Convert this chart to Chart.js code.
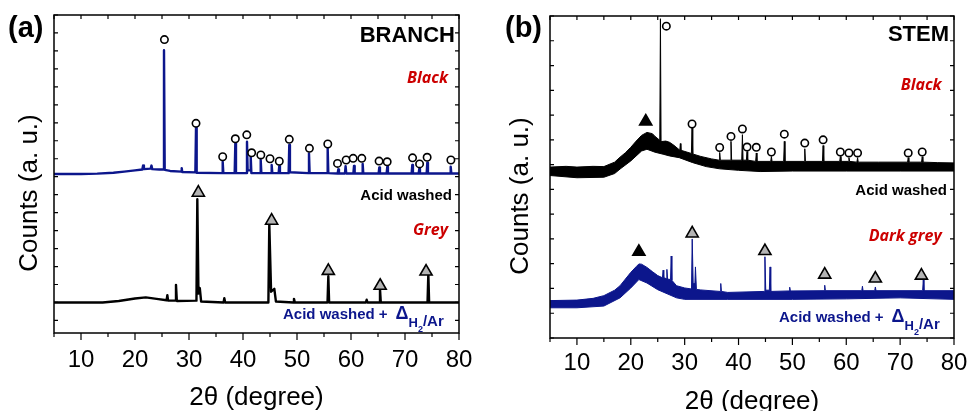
<!DOCTYPE html>
<html lang="en">
<head>
<meta charset="UTF-8">
<title>XRD - branch / stem</title>
<style>
  body { margin: 0; background: #fff; }
  .wrap { position: relative; width: 968px; height: 411px; overflow: hidden; }
  canvas { position: absolute; top: 0; }
  #chartA { left: 0; }
  #chartB { left: 484px; }
</style>
<script src="https://cdn.jsdelivr.net/npm/chart.js"></script>
</head>
<body>
<div class="wrap">
  <canvas id="chartA" width="484" height="411"></canvas>
  <canvas id="chartB" width="484" height="411"></canvas>
</div>
<script>
const NAVY = '#0c168c';
const RED = '#cc0000';
const SANS = '"Liberation Sans", Arial, sans-serif';

// x tick labels (ticks every 5, labels every 10)
const xLabelled = [10, 20, 30, 40, 50, 60, 70, 80];

// ---- (a) BRANCH ----
// "Black" pattern (navy trace)
const branchBlack = [[5,8.15],[10,8.15],[13,8.17],[16,8.22],[18,8.28],[20,8.35],[21.35,8.4],[21.5,8.62],[21.65,8.42],[22.9,8.45],[23.05,8.62],[23.2,8.42],[24.5,8.4],[25.25,8.4],[25.37,15.04],[25.5,8.38],[26.5,8.32],[28.55,8.28],[28.65,8.47],[28.75,8.26],[31.18,8.24],[31.3,10.72],[31.42,8.22],[36.12,8.2],[36.24,8.83],[36.36,8.2],[38.46,8.2],[38.58,9.86],[38.7,8.2],[40.62,8.2],[40.74,9.95],[40.86,8.35],[41.31,8.35],[41.43,9.11],[41.55,8.2],[43.16,8.2],[43.28,8.93],[43.4,8.2],[45.19,8.2],[45.31,8.65],[45.43,8.2],[46.6,8.2],[46.72,8.59],[46.84,8.2],[48.45,8.2],[48.57,9.76],[48.69,8.25],[52.1,8.2],[52.22,9.3],[52.34,8.2],[55.56,8.2],[55.68,9.58],[55.8,8.2],[57.53,8.18],[57.65,8.41],[57.77,8.18],[58.88,8.18],[59.0,8.59],[59.12,8.18],[60.44,8.18],[60.56,8.6],[60.68,8.18],[62.04,8.18],[62.16,8.71],[62.28,8.18],[65.12,8.18],[65.24,8.52],[65.36,8.18],[66.6,8.18],[66.72,8.55],[66.84,8.18],[71.23,8.18],[71.35,8.65],[71.47,8.18],[72.53,8.18],[72.65,8.45],[72.77,8.18],[74.01,8.18],[74.13,8.78],[74.25,8.18],[78.34,8.18],[78.46,8.56],[78.58,8.18],[80,8.18]];
// "Grey" pattern (black trace)
const branchGrey = [[5,1.0],[14,1.0],[17,1.08],[20,1.22],[22,1.28],[24,1.2],[25.85,1.12],[25.99,1.41],[26.13,1.1],[27.45,1.1],[27.59,1.98],[27.75,1.08],[31.38,1.1],[31.54,6.75],[31.75,1.5],[32.0,1.8],[32.25,1.05],[36.4,1.0],[36.54,1.24],[36.7,1.0],[44.7,1.0],[44.87,5.36],[45.2,1.6],[45.8,1.76],[46.1,1.05],[49.3,1.0],[49.44,1.2],[49.6,1.0],[55.65,1.0],[55.8,2.46],[55.95,1.0],[62.75,1.0],[62.9,1.15],[63.05,1.0],[65.22,1.0],[65.37,1.74],[65.52,1.0],[74.17,1.0],[74.32,2.58],[74.47,1.0],[80,1.0]];
const branchCircles = [[25.45,15.63],[31.3,10.97],[36.24,9.11],[38.58,10.11],[40.7,10.33],[41.6,9.33],[43.3,9.21],[45.0,9.0],[46.72,8.86],[48.57,10.08],[52.3,9.58],[55.7,9.82],[57.5,8.74],[59.1,8.93],[60.4,9.02],[62.0,9.02],[65.2,8.87],[66.7,8.83],[71.4,9.05],[72.7,8.71],[74.1,9.08],[78.5,8.93]];
const branchGreyTri = [[31.73,7.11],[45.3,5.55],[55.8,2.76],[65.4,1.93],[73.9,2.72]];

// ---- (b) STEM ----
// "Black" pattern, noisy band: upper and lower envelope
const stemBlackUpper = [[5,6.9],[8,6.93],[10,6.9],[13,6.93],[15,6.92],[17,7.1],[18,7.3],[19,7.48],[20,7.7],[21,7.95],[22,8.18],[23,8.3],[24,8.25],[24.5,8.14],[25.38,7.98],[25.5,12.89],[25.62,7.93],[26.5,7.95],[27.2,7.9],[28,7.78],[29.1,7.58],[29.2,7.85],[29.3,7.58],[31.25,7.45],[31.37,8.48],[31.5,7.43],[33,7.33],[35,7.23],[36.38,7.18],[36.5,7.49],[36.62,7.18],[38.48,7.18],[38.6,7.94],[38.72,7.18],[40.6,7.18],[40.72,8.21],[40.84,7.18],[41.46,7.18],[41.58,7.53],[41.7,7.18],[43.18,7.13],[43.3,7.47],[43.42,7.13],[45.98,7.13],[46.1,7.33],[46.22,7.13],[48.38,7.13],[48.5,7.94],[48.62,7.13],[52.18,7.13],[52.3,7.64],[52.42,7.13],[55.58,7.13],[55.7,7.77],[55.82,7.13],[58.78,7.13],[58.9,7.33],[59.02,7.13],[60.38,7.13],[60.5,7.28],[60.62,7.13],[61.98,7.1],[62.1,7.28],[62.22,7.1],[66,7.1],[71.38,7.1],[71.5,7.28],[71.62,7.1],[73.98,7.1],[74.1,7.32],[74.22,7.1],[77,7.08],[80,7.07]];
const stemBlackLower = [[5,6.56],[10,6.47],[15,6.49],[17,6.64],[18,6.82],[20,7.15],[22,7.55],[23,7.62],[24.5,7.5],[26,7.42],[27.2,7.35],[29,7.28],[31.5,7.08],[34,6.92],[36.5,6.83],[40,6.77],[44,6.72],[50,6.74],[60,6.74],[70,6.74],[80,6.74]];
// "Dark grey" pattern (navy band)
const stemGreyUpper = [[5,1.51],[10,1.53],[13,1.6],[15,1.71],[17,1.93],[18,2.11],[19,2.38],[20,2.65],[21,2.88],[21.5,2.99],[22,2.98],[23,2.85],[24,2.68],[25,2.52],[25.88,2.43],[26.0,2.74],[26.12,2.43],[26.58,2.4],[26.7,2.77],[26.82,2.38],[27.38,2.36],[27.5,3.31],[27.62,2.33],[28.5,2.11],[30,2.02],[31.27,1.98],[31.4,4.0],[31.58,2.2],[31.9,2.2],[32.0,2.87],[32.18,1.96],[33,1.94],[36.58,1.88],[36.7,2.2],[36.82,1.88],[38,1.84],[44.78,1.88],[44.9,3.28],[45.05,1.93],[45.72,1.93],[45.85,2.87],[45.98,1.88],[49.38,1.9],[49.5,2.05],[49.62,1.9],[55.88,1.91],[56.0,2.13],[56.12,1.91],[62.88,1.91],[63.0,2.09],[63.12,1.91],[65.28,1.91],[65.4,2.06],[65.52,1.91],[74.18,1.91],[74.3,2.34],[74.42,1.91],[80,1.91]];
const stemGreyLower = [[5,1.22],[10,1.22],[15,1.29],[18,1.62],[20,2.02],[21.5,2.36],[23,2.22],[25,1.95],[28.5,1.62],[30,1.56],[38,1.56],[50,1.56],[60,1.58],[70,1.62],[80,1.56]];
const stemCircles = [[26.6,12.59],[31.37,8.64],[36.5,7.69],[38.6,8.14],[40.72,8.44],[41.58,7.71],[43.3,7.7],[46.1,7.51],[48.5,8.23],[52.3,7.87],[55.7,8.0],[58.9,7.51],[60.5,7.47],[62.1,7.47],[71.5,7.47],[74.1,7.51]];
const stemBlackTri = [[22.77,8.74],[21.5,3.48]];
const stemGreyTri = [[31.4,4.22],[44.9,3.51],[56.0,2.56],[65.4,2.4],[73.95,2.52]];

const pts = a => a.map(([x, y]) => ({ x, y }));

function trace(data, color, width) {
  return { data: pts(data), borderColor: color, borderWidth: width, borderJoinStyle: 'round', borderCapStyle: 'round',
           pointRadius: 0, fill: false, tension: 0, order: 2 };
}
function band(upper, lower, color) {
  return [
    { data: pts(upper), borderColor: color, backgroundColor: color, borderWidth: 1, borderJoinStyle: 'round',
      pointRadius: 0, fill: '+1', tension: 0, order: 3 },
    { data: pts(lower), borderColor: color, borderWidth: 1, borderJoinStyle: 'round',
      pointRadius: 0, fill: false, tension: 0, order: 3 }
  ];
}
function marks(data, style, fill) {
  return { data: pts(data), showLine: false, pointStyle: style, pointRadius: style === 'triangle' ? 7 : 3.7,
           backgroundColor: fill, borderColor: '#000', borderWidth: 1.6, order: 0 };
}

// frame, inside ticks, outside bottom ticks, texts
const deco = {
  id: 'deco',
  afterDraw(chart, args, o) {
    const ctx = chart.ctx, a = chart.chartArea, xs = chart.scales.x, ys = chart.scales.y;
    ctx.save();
    ctx.strokeStyle = '#000';
    ctx.lineWidth = 1.5;
    ctx.strokeRect(a.left, a.top, a.right - a.left, a.bottom - a.top);
    ctx.lineWidth = 1.2;
    ctx.beginPath();
    ys.ticks.forEach(t => {
      if (!Number.isInteger(t.value)) return;
      const y = ys.getPixelForValue(t.value);
      ctx.moveTo(a.left, y); ctx.lineTo(a.left + 4, y);
      ctx.moveTo(a.right, y); ctx.lineTo(a.right - 4, y);
    });
    xs.ticks.forEach(t => {
      const x = xs.getPixelForValue(t.value);
      const len = xLabelled.includes(t.value) ? 7 : 4;
      ctx.moveTo(x, a.bottom); ctx.lineTo(x, a.bottom + len);
      ctx.moveTo(x, a.top); ctx.lineTo(x, a.top + 4);
    });
    ctx.stroke();

    ctx.textBaseline = 'alphabetic';
    o.texts.forEach(t => {
      ctx.font = t.font;
      ctx.fillStyle = t.color || '#000';
      ctx.textAlign = t.align || 'left';
      ctx.fillText(t.t, t.x, t.y);
    });

    // Acid washed + Δ H2/Ar
    const d = o.delta;
    ctx.fillStyle = NAVY;
    ctx.textAlign = 'left';
    let x = d.x;
    const piece = (s, font, dy, gap) => {
      ctx.font = font;
      ctx.fillText(s, x, d.y + dy);
      x += ctx.measureText(s).width + gap;
    };
    piece('Acid washed +', 'bold 15px ' + SANS, 0, 8);
    piece('\u0394', 'bold 18px ' + SANS, 0, 0);
    piece('H', 'bold 13px ' + SANS, 8, 0);
    piece('2', 'bold 9px ' + SANS, 13, 0);
    piece('/Ar', 'bold 15px ' + SANS, 7.5, 0);

    ctx.fillStyle = '#000';
    ctx.font = '26px ' + SANS;
    ctx.textAlign = 'center';
    ctx.fillText('2\u03b8 (degree)', o.xTitle.x, o.xTitle.y);
    ctx.translate(o.yTitle.x, o.yTitle.y);
    ctx.rotate(-Math.PI / 2);
    ctx.fillText('Counts (a. u.)', 0, 0);
    ctx.restore();
  }
};

function makeChart(id, datasets, cfg) {
  return new Chart(document.getElementById(id), {
    type: 'line',
    data: { datasets },
    plugins: [deco],
    options: {
      responsive: false,
      animation: false,
      events: [],
      layout: { padding: { left: cfg.left, right: cfg.right, top: cfg.top, bottom: 0 } },
      plugins: { legend: { display: false }, tooltip: { enabled: false }, deco: cfg.deco },
      scales: {
        x: {
          type: 'linear', min: 5, max: 80,
          afterFit: s => { s.height = cfg.axisH; s.paddingLeft = 0; s.paddingRight = 0; },
          ticks: {
            stepSize: 5, autoSkip: false, maxRotation: 0, padding: cfg.tickPad, color: '#000',
            font: { family: SANS, size: 24 },
            callback: v => xLabelled.includes(v) ? String(v) : ''
          },
          grid: { display: false },
          border: { display: false }
        },
        y: {
          type: 'linear', min: cfg.ymin, max: cfg.ymax,
          afterFit: s => { s.width = 0; },
          ticks: { display: false, stepSize: 1, includeBounds: false },
          grid: { display: false },
          border: { display: false }
        }
      }
    }
  });
}

makeChart('chartA', [
  marks(branchCircles, 'circle', '#fff'),
  marks(branchGreyTri, 'triangle', '#b4b4b4'),
  trace(branchBlack, NAVY, 2.4),
  trace(branchGrey, '#000', 2.4)
], {
  left: 54, right: 25, top: 15, axisH: 78, tickPad: 4.5, ymin: -0.7, ymax: 17,
  deco: {
    texts: [
      { t: '(a)', x: 8, y: 37, font: 'bold 29px ' + SANS },
      { t: 'BRANCH', x: 455, y: 41.5, font: 'bold 22px ' + SANS, align: 'right' },
      { t: 'Black', x: 448, y: 82.7, font: 'italic bold 16px "Open Sans"', color: RED, align: 'right' },
      { t: 'Acid washed', x: 452, y: 200, font: 'bold 15px ' + SANS, align: 'right' },
      { t: 'Grey', x: 448, y: 235, font: 'italic bold 16px "Open Sans"', color: RED, align: 'right' }
    ],
    delta: { x: 283, y: 318.5 },
    xTitle: { x: 256.5, y: 404.5 },
    yTitle: { x: 37, y: 193 }
  }
});

makeChart('chartB', [
  marks(stemCircles, 'circle', '#fff'),
  marks(stemBlackTri, 'triangle', '#000'),
  marks(stemGreyTri, 'triangle', '#b4b4b4'),
  ...band(stemBlackUpper, stemBlackLower, '#000'),
  ...band(stemGreyUpper, stemGreyLower, NAVY)
], {
  left: 66, right: 14, top: 16, axisH: 73, tickPad: 3, ymin: 0, ymax: 13,
  deco: {
    texts: [
      { t: '(b)', x: 21, y: 37, font: 'bold 29px ' + SANS },
      { t: 'STEM', x: 465, y: 41, font: 'bold 22px ' + SANS, align: 'right' },
      { t: 'Black', x: 457.7, y: 90, font: 'italic bold 16px "Open Sans"', color: RED, align: 'right' },
      { t: 'Acid washed', x: 463, y: 195, font: 'bold 15px ' + SANS, align: 'right' },
      { t: 'Dark grey', x: 457.7, y: 241, font: 'italic bold 16px "Open Sans"', color: RED, align: 'right' }
    ],
    delta: { x: 295, y: 321.5 },
    xTitle: { x: 268, y: 408.5 },
    yTitle: { x: 44, y: 196 }
  }
});
</script>
</body>
</html>
